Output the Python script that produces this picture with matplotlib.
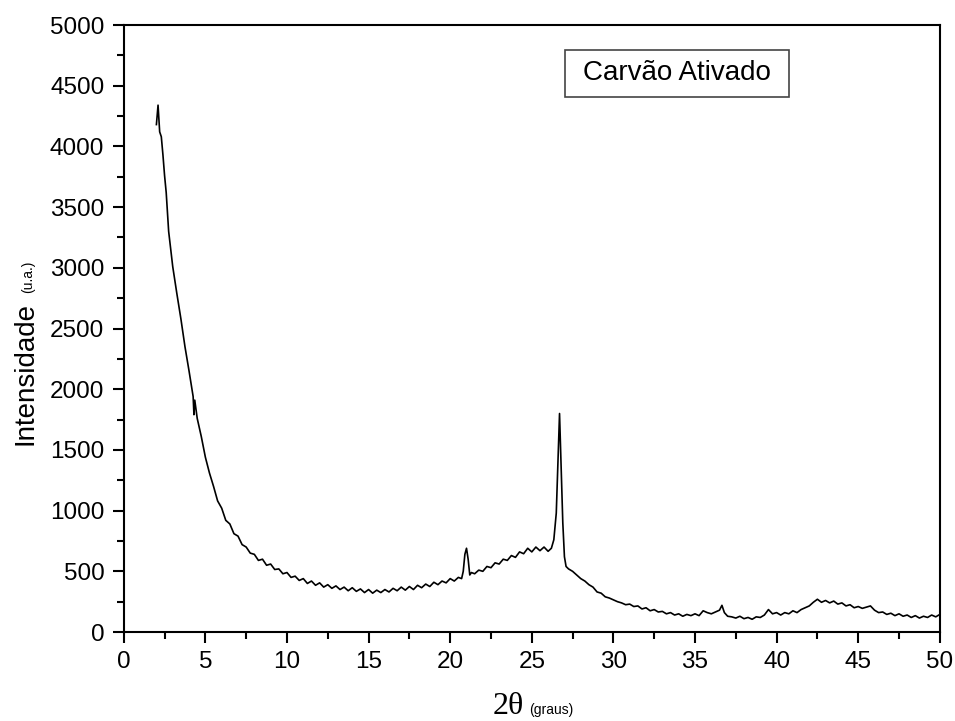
import matplotlib.pyplot as plt
from matplotlib.patches import Rectangle

plt.rcParams['font.family'] = ['Liberation Sans', 'DejaVu Sans']

# Difratograma do carvão ativado (2theta em graus, intensidade em u.a.)
two_theta = [
    2.0, 2.1, 2.2, 2.3, 2.4, 2.5, 2.6, 2.75, 3.0, 3.25, 3.5, 3.75, 4.0, 4.25, 4.3, 4.35,
    4.5, 4.75, 5.0, 5.25, 5.5, 5.75, 6.0, 6.25, 6.5, 6.75, 7.0, 7.25, 7.5, 7.75,
    8.0, 8.25, 8.5, 8.75, 9.0, 9.25, 9.5, 9.75, 10.0, 10.25, 10.5, 10.75,
    11.0, 11.25, 11.5, 11.75, 12.0, 12.25, 12.5, 12.75, 13.0, 13.25, 13.5, 13.75,
    14.0, 14.25, 14.5, 14.75, 15.0, 15.25, 15.5, 15.75, 16.0, 16.25, 16.5, 16.75,
    17.0, 17.25, 17.5, 17.75, 18.0, 18.25, 18.5, 18.75, 19.0, 19.25, 19.5, 19.75,
    20.0, 20.25, 20.5, 20.7, 20.8, 20.9, 21.0, 21.1, 21.2, 21.3, 21.5, 21.75,
    22.0, 22.25, 22.5, 22.75, 23.0, 23.25, 23.5, 23.75, 24.0, 24.25, 24.5, 24.75,
    25.0, 25.25, 25.5, 25.75, 26.0, 26.2, 26.35, 26.5, 26.6, 26.7, 26.8, 26.9,
    27.0, 27.1, 27.25, 27.5, 27.75, 28.0, 28.25, 28.5, 28.75, 29.0, 29.25, 29.5, 29.75,
    30.0, 30.25, 30.5, 30.75, 31.0, 31.25, 31.5, 31.75, 32.0, 32.25, 32.5, 32.75,
    33.0, 33.25, 33.5, 33.75, 34.0, 34.25, 34.5, 34.75, 35.0, 35.25, 35.5, 35.75,
    36.0, 36.25, 36.5, 36.65, 36.8, 37.0, 37.25, 37.5, 37.75, 38.0, 38.25, 38.5, 38.75,
    39.0, 39.25, 39.5, 39.75, 40.0, 40.25, 40.5, 40.75, 41.0, 41.25, 41.5, 41.75,
    42.0, 42.25, 42.5, 42.75, 43.0, 43.25, 43.5, 43.75, 44.0, 44.25, 44.5, 44.75,
    45.0, 45.25, 45.5, 45.75, 46.0, 46.25, 46.5, 46.75, 47.0, 47.25, 47.5, 47.75,
    48.0, 48.25, 48.5, 48.75, 49.0, 49.25, 49.5, 49.75, 50.0,
]
intensidade = [
    4180, 4340, 4120, 4080, 3930, 3760, 3620, 3300, 3010, 2790, 2580, 2350, 2150, 1940, 1790, 1910,
    1760, 1610, 1440, 1310, 1200, 1080, 1020, 920, 890, 810, 790, 720, 700, 650,
    640, 590, 600, 550, 560, 515, 520, 480, 490, 450, 460, 425,
    440, 400, 420, 385, 405, 370, 390, 360, 380, 350, 370, 340,
    365, 335, 355, 325, 350, 320, 345, 325, 350, 330, 360, 340,
    370, 345, 375, 350, 385, 365, 395, 375, 410, 390, 420, 405,
    440, 420, 450, 440, 500, 640, 690, 600, 470, 490, 480, 510,
    500, 540, 530, 570, 560, 600, 590, 630, 615, 660, 645, 690,
    660, 700, 670, 700, 665, 690, 760, 980, 1400, 1800, 1350, 900,
    620, 540, 520, 500, 470, 440, 420, 390, 370, 330, 320, 290, 280,
    265, 250, 240, 225, 230, 210, 215, 190, 200, 175, 185, 165,
    170, 150, 160, 140, 150, 130, 145, 135, 150, 135, 175, 160,
    150, 165, 180, 220, 160, 130, 125, 115, 130, 110, 120, 105, 125,
    120, 140, 185, 150, 160, 140, 160, 150, 175, 160, 185, 200,
    215, 245, 270, 245, 260, 240, 255, 230, 240, 215, 225, 200,
    210, 195, 205, 215, 180, 160, 165, 145, 155, 135, 150, 130,
    140, 120, 135, 115, 130, 120, 140, 125, 145,
]

fig = plt.figure(figsize=(9.55, 7.21), dpi=100)
ax = fig.add_axes([0.1296, 0.1234, 0.8545, 0.8419])

ax.plot(two_theta, intensidade, color='black', linewidth=1.2)

ax.set_xlim(0, 50)
ax.set_ylim(0, 5000)
ax.set_xticks(range(0, 51, 5))
ax.set_yticks(range(0, 5001, 500))
ax.set_xticks([x + 2.5 for x in range(0, 50, 5)], minor=True)
ax.set_yticks([y + 250 for y in range(0, 5000, 500)], minor=True)
ax.tick_params(which='major', direction='out', length=8, width=1.5, labelsize=17.5, pad=6)
ax.tick_params(which='minor', direction='out', length=5, width=1.5)
for s in ax.spines.values():
    s.set_linewidth(1.5)

# caixa com o nome da amostra
ax.add_patch(Rectangle((0.5406, 0.881), 0.2744, 0.078, transform=ax.transAxes,
                       fill=False, edgecolor='#444444', linewidth=1.2))
ax.text(0.678, 0.921, 'Carvão Ativado', transform=ax.transAxes,
        ha='center', va='center', fontsize=20)

# rótulos dos eixos
fig.text(493 / 955, 1 - 714 / 721, '2θ', family='Liberation Serif', fontsize=23,
         va='baseline', ha='left')
fig.text(529 / 955, 1 - 714 / 721, '(graus)', fontsize=10, va='baseline', ha='left')
fig.text(32 / 955, 1 - 445 / 721, 'Intensidade', fontsize=20, rotation=90,
         rotation_mode='anchor', ha='left', va='baseline')
fig.text(32 / 955, 1 - 293 / 721, '(u.a.)', fontsize=10, rotation=90,
         rotation_mode='anchor', ha='left', va='baseline')

fig.savefig('out.png', dpi=100)
